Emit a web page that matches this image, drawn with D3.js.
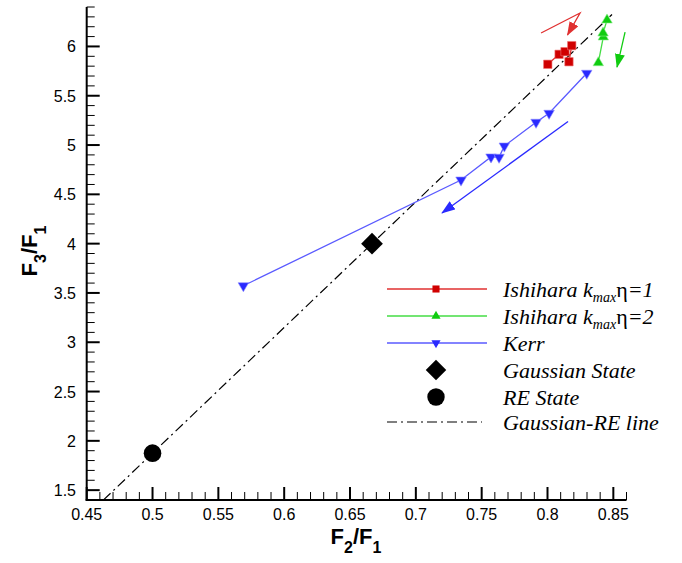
<!DOCTYPE html>
<html><head><meta charset="utf-8">
<script src="https://cdn.jsdelivr.net/npm/d3@7"></script>
<style>body{margin:0;background:#fff}</style>
</head><body><svg id="c" width="682" height="563"></svg>
<script>
// ---- data ----
const ishi1X = [0.8002, 0.8088, 0.8133, 0.8184, 0.8163];
const ishi1Y = [5.819, 5.920, 5.947, 6.008, 5.845];
const ishi2X = [0.8386, 0.8424, 0.8422, 0.8452];
const ishi2Y = [5.835, 6.096, 6.136, 6.268];
const kerrX = [0.5690, 0.7343, 0.7571, 0.7632, 0.7672, 0.7913, 0.8012, 0.8298];
const kerrY = [3.573, 4.645, 4.879, 4.876, 4.990, 5.231, 5.322, 5.728];
const gaussianState = [0.6667, 4.0];
const reState = [0.5, 1.875];
const lineX = [0.4626, 0.849];
const arrowRedX = [0.7951, 0.8247, 0.8152], arrowRedY = [6.136, 6.339, 6.116];
const arrowGreenX = [0.8589, 0.8528], arrowGreenY = [6.146, 5.791];
const arrowBlueX = [0.8156, 0.7199], arrowBlueY = [5.238, 4.311];
const xTicks = [0.45, 0.5, 0.55, 0.6, 0.65, 0.7, 0.75, 0.8, 0.85];
const yTicks = [1.5, 2, 2.5, 3, 3.5, 4, 4.5, 5, 5.5, 6];

const svg = d3.select("#c");
const x = d3.scaleLinear().domain([0.45, 0.86]).range([86.7, 626.5]);
const y = d3.scaleLinear().domain([1.4, 6.4]).range([500, 7]);

const RED = "#d00000", REDL = "#e03030";
const GRN = "#10cc10", GRNL = "#44dd44";
const BLU = "#2a2aff", BLUL = "#5a5aff";

// defs: arrowheads
const defs = svg.append("defs");
[["ar", REDL], ["ag", GRN], ["ab", BLU]].forEach(([id, c]) => {
  defs.append("marker").attr("id", id).attr("viewBox", "0 0 14 10")
    .attr("refX", 13).attr("refY", 5).attr("markerWidth", 14).attr("markerHeight", 10)
    .attr("markerUnits", "userSpaceOnUse").attr("orient", "auto")
    .append("path").attr("d", "M0,0 L14,5 L0,10 Z").attr("fill", c);
});

// gaussian-RE line
const slope = (gaussianState[1] - reState[1]) / (gaussianState[0] - reState[0]);
const lineY = lineX.map(v => reState[1] + slope * (v - reState[0]));
svg.append("line").attr("x1", x(lineX[0])).attr("y1", y(lineY[0]))
  .attr("x2", x(lineX[1])).attr("y2", y(lineY[1]))
  .attr("stroke", "#000").attr("stroke-width", 1.2).attr("stroke-dasharray", "10,4,2,4");

// axes
const axg = svg.append("g");
axg.append("line").attr("x1", x(0.45) - 1).attr("x2", x(0.86)).attr("y1", y(1.4)).attr("y2", y(1.4))
  .attr("stroke", "#000").attr("stroke-width", 2);
axg.append("line").attr("x1", x(0.45)).attr("x2", x(0.45)).attr("y1", y(1.4) + 1).attr("y2", y(6.4))
  .attr("stroke", "#000").attr("stroke-width", 2);
const xMinor = d3.range(45, 87).map(v => v / 100);
xMinor.forEach(v => {
  const major = Math.abs(v * 20 - Math.round(v * 20)) < 1e-6;
  axg.append("line").attr("x1", x(v)).attr("x2", x(v)).attr("y1", y(1.4)).attr("y2", y(1.4) - (major ? 13 : 8))
    .attr("stroke", "#000").attr("stroke-width", major ? 2 : 1);
});
const yMinor = d3.range(14, 65).map(v => v / 10);
yMinor.forEach(v => {
  const major = Math.abs(v * 2 - Math.round(v * 2)) < 1e-6;
  axg.append("line").attr("y1", y(v)).attr("y2", y(v)).attr("x1", x(0.45)).attr("x2", x(0.45) + (major ? 13 : 8))
    .attr("stroke", "#000").attr("stroke-width", major ? 2 : 1);
});
const tickFont = "'Liberation Sans', Arial, Helvetica, sans-serif";
xTicks.forEach(v => {
  svg.append("text").attr("x", x(v)).attr("y", 520).attr("text-anchor", "middle")
    .attr("font-family", tickFont).attr("font-size", 16).text(String(v));
});
yTicks.forEach(v => {
  svg.append("text").attr("x", 76).attr("y", y(v) + 6).attr("text-anchor", "end")
    .attr("font-family", tickFont).attr("font-size", 16).text(String(v));
});
// axis titles
function title(sel, a, b) {
  sel.append("tspan").text("F");
  sel.append("tspan").attr("font-size", 16).attr("dy", 9).text(a);
  sel.append("tspan").attr("dy", -9).text("/F");
  sel.append("tspan").attr("font-size", 16).attr("dy", 9).text(b);
}
const xt = svg.append("text").attr("x", 356).attr("y", 544).attr("text-anchor", "middle")
  .attr("font-family", tickFont).attr("font-weight", "bold").attr("font-size", 22);
title(xt, "2", "1");
const yt = svg.append("text").attr("transform", "translate(37,251) rotate(-90)").attr("text-anchor", "middle")
  .attr("font-family", tickFont).attr("font-weight", "bold").attr("font-size", 22);
title(yt, "3", "1");

// series lines
const lineGen = d3.line().x(d => x(d[0])).y(d => y(d[1]));
const zip = (a, b) => a.map((v, i) => [v, b[i]]);
svg.append("path").attr("d", lineGen(zip(ishi1X, ishi1Y))).attr("fill", "none").attr("stroke", REDL).attr("stroke-width", 1.3);
svg.append("path").attr("d", lineGen(zip(ishi2X, ishi2Y))).attr("fill", "none").attr("stroke", GRNL).attr("stroke-width", 1.3);
svg.append("path").attr("d", lineGen(zip(kerrX, kerrY))).attr("fill", "none").attr("stroke", BLUL).attr("stroke-width", 1.3);

// arrows
svg.append("path").attr("d", lineGen(zip(arrowRedX, arrowRedY))).attr("fill", "none").attr("stroke", REDL).attr("stroke-width", 1.3).attr("marker-end", "url(#ar)");
svg.append("path").attr("d", lineGen(zip(arrowGreenX, arrowGreenY))).attr("fill", "none").attr("stroke", GRN).attr("stroke-width", 1.3).attr("marker-end", "url(#ag)");
svg.append("path").attr("d", lineGen(zip(arrowBlueX, arrowBlueY))).attr("fill", "none").attr("stroke", BLU).attr("stroke-width", 1.3).attr("marker-end", "url(#ab)");

// markers
const sq = d3.symbol().type(d3.symbolSquare).size(70);
const tri = d3.symbol().type(d3.symbolTriangle).size(48);
zip(ishi1X, ishi1Y).forEach(d => svg.append("path").attr("d", sq()).attr("transform", `translate(${x(d[0])},${y(d[1])})`).attr("fill", RED).attr("stroke", "#f07070").attr("stroke-width", 0.6));
zip(ishi2X, ishi2Y).forEach(d => svg.append("path").attr("d", tri()).attr("transform", `translate(${x(d[0])},${y(d[1])})`).attr("fill", GRN).attr("stroke", "#90ee90").attr("stroke-width", 0.6));
zip(kerrX, kerrY).forEach(d => svg.append("path").attr("d", tri()).attr("transform", `translate(${x(d[0])},${y(d[1])}) rotate(180)`).attr("fill", BLU).attr("stroke", "#9090ff").attr("stroke-width", 0.6));
const dia = d3.symbol().type(d3.symbolSquare).size(236);
svg.append("path").attr("d", dia())
  .attr("transform", `translate(${x(gaussianState[0])},${y(gaussianState[1])}) rotate(45)`).attr("fill", "#000");
svg.append("circle").attr("cx", x(reState[0])).attr("cy", y(reState[1])).attr("r", 8.8).attr("fill", "#000");

// legend
const legendLabels = [
  ["Ishihara k", "max", "\u03b7", "=1"],
  ["Ishihara k", "max", "\u03b7", "=2"],
  ["Kerr"],
  ["Gaussian State"],
  ["RE State"],
  ["Gaussian-RE line"]
];
const legRowY = [289, 316, 343, 370, 397, 422];
const lx0 = 387, lx1 = 487, lm = 436, ltx = 503;
const serif = "'Liberation Serif', 'Times New Roman', serif";
legendLabels.forEach((lab, i) => {
  const ry = legRowY[i];
  const g = svg.append("g");
  if (i < 3) {
    const c = [REDL, GRNL, BLUL][i];
    g.append("line").attr("x1", lx0).attr("x2", lx1).attr("y1", ry).attr("y2", ry).attr("stroke", c).attr("stroke-width", 1.3);
    if (i === 0) g.append("path").attr("d", d3.symbol().type(d3.symbolSquare).size(50)()).attr("transform", `translate(${lm},${ry})`).attr("fill", RED);
    if (i === 1) g.append("path").attr("d", d3.symbol().type(d3.symbolTriangle).size(36)()).attr("transform", `translate(${lm},${ry})`).attr("fill", GRN);
    if (i === 2) g.append("path").attr("d", d3.symbol().type(d3.symbolTriangle).size(36)()).attr("transform", `translate(${lm},${ry}) rotate(180)`).attr("fill", BLU);
  } else if (i === 3) {
    g.append("path").attr("d", d3.symbol().type(d3.symbolSquare).size(210)()).attr("transform", `translate(${lm},${ry}) rotate(45)`).attr("fill", "#000");
  } else if (i === 4) {
    g.append("circle").attr("cx", lm).attr("cy", ry).attr("r", 8.7).attr("fill", "#000");
  } else {
    g.append("line").attr("x1", lx0).attr("x2", lx1 - 5).attr("y1", ry).attr("y2", ry).attr("stroke", "#000").attr("stroke-width", 1.2).attr("stroke-dasharray", "10,4,2,4");
  }
  const t = g.append("text").attr("x", ltx).attr("y", ry + 7.5).attr("font-family", serif).attr("font-style", "italic").attr("font-size", 22);
  t.append("tspan").text(lab[0]);
  if (lab.length > 1) {
    t.append("tspan").attr("font-size", 14).attr("dy", 5.5).text(lab[1]);
    t.append("tspan").attr("dy", -5.5).attr("font-style", "normal").text(lab[2]);
    t.append("tspan").text(lab[3]);
  }
});
</script></body></html>
